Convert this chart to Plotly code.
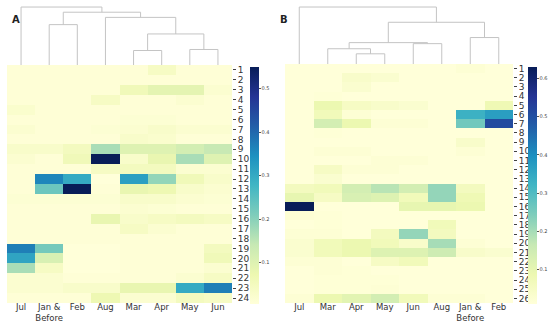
import plotly.graph_objects as go

# ---------------- data ----------------
rows_a = list(range(1, 25))
cols_a = ["Jul", "Jan &<br>Before", "Feb", "Aug", "Mar", "Apr", "May", "Jun"]
vals_a = [
    [0.01, 0.01, 0.01, 0.01, 0.01, 0.04, 0.01, 0.01],   # 1
    [0.01, 0.01, 0.01, 0.01, 0.01, 0.01, 0.01, 0.01],   # 2
    [0.01, 0.01, 0.01, 0.01, 0.06, 0.09, 0.09, 0.02],   # 3
    [0.01, 0.01, 0.01, 0.04, 0.01, 0.01, 0.02, 0.01],   # 4
    [0.025, 0.01, 0.01, 0.01, 0.01, 0.01, 0.01, 0.01],  # 5
    [0.01, 0.01, 0.01, 0.01, 0.015, 0.015, 0.01, 0.01], # 6
    [0.02, 0.01, 0.01, 0.015, 0.02, 0.03, 0.02, 0.02],  # 7
    [0.01, 0.01, 0.01, 0.01, 0.03, 0.025, 0.01, 0.01],  # 8
    [0.03, 0.03, 0.05, 0.17, 0.10, 0.10, 0.12, 0.14],   # 9
    [0.02, 0.01, 0.06, 0.55, 0.03, 0.08, 0.17, 0.10],   # 10
    [0.01, 0.01, 0.01, 0.04, 0.05, 0.05, 0.02, 0.02],   # 11
    [0.01, 0.36, 0.30, 0.005, 0.32, 0.19, 0.06, 0.03],  # 12
    [0.01, 0.23, 0.55, 0.01, 0.08, 0.07, 0.03, 0.02],   # 13
    [0.015, 0.015, 0.015, 0.015, 0.03, 0.03, 0.02, 0.015], # 14
    [0.01, 0.01, 0.01, 0.01, 0.02, 0.015, 0.01, 0.01],  # 15
    [0.01, 0.01, 0.01, 0.08, 0.03, 0.04, 0.05, 0.04],   # 16
    [0.01, 0.01, 0.01, 0.01, 0.04, 0.02, 0.01, 0.01],   # 17
    [0.01, 0.01, 0.01, 0.01, 0.01, 0.01, 0.01, 0.01],   # 18
    [0.37, 0.22, 0.005, 0.005, 0.01, 0.01, 0.01, 0.05], # 19
    [0.31, 0.11, 0.005, 0.005, 0.01, 0.01, 0.01, 0.06], # 20
    [0.17, 0.04, 0.005, 0.005, 0.01, 0.01, 0.01, 0.02], # 21
    [0.02, 0.02, 0.01, 0.01, 0.01, 0.01, 0.02, 0.04],   # 22
    [0.02, 0.02, 0.03, 0.03, 0.08, 0.08, 0.30, 0.37],   # 23
    [0.01, 0.01, 0.01, 0.07, 0.02, 0.02, 0.05, 0.04],   # 24
]
# dendrogram merges (left, right, height); ids >= 8 refer to earlier merges
merges_a = [(4, 5, 14), (6, 7, 15), (8, 9, 30), (3, 10, 46),
            (1, 2, 39), (12, 11, 51), (0, 13, 56)]

rows_b = list(range(1, 27))
cols_b = ["Jul", "Mar", "Apr", "May", "Jun", "Aug", "Jan &<br>Before", "Feb"]
vals_b = [
    [0.01, 0.01, 0.01, 0.01, 0.01, 0.01, 0.02, 0.01],   # 1
    [0.01, 0.01, 0.04, 0.03, 0.01, 0.01, 0.01, 0.01],   # 2
    [0.01, 0.01, 0.03, 0.01, 0.01, 0.01, 0.01, 0.01],   # 3
    [0.01, 0.015, 0.01, 0.01, 0.01, 0.01, 0.01, 0.01],  # 4
    [0.01, 0.09, 0.05, 0.04, 0.03, 0.01, 0.01, 0.08],   # 5
    [0.01, 0.07, 0.02, 0.01, 0.01, 0.01, 0.33, 0.37],   # 6
    [0.01, 0.14, 0.09, 0.02, 0.02, 0.01, 0.26, 0.51],   # 7
    [0.01, 0.015, 0.01, 0.01, 0.01, 0.01, 0.01, 0.01],  # 8
    [0.01, 0.01, 0.01, 0.01, 0.01, 0.01, 0.04, 0.01],   # 9
    [0.01, 0.02, 0.02, 0.01, 0.01, 0.01, 0.02, 0.01],   # 10
    [0.01, 0.01, 0.01, 0.02, 0.02, 0.01, 0.01, 0.01],   # 11
    [0.01, 0.05, 0.02, 0.02, 0.01, 0.01, 0.01, 0.01],   # 12
    [0.01, 0.03, 0.01, 0.01, 0.01, 0.01, 0.01, 0.01],   # 13
    [0.06, 0.07, 0.14, 0.18, 0.14, 0.22, 0.06, 0.01],   # 14
    [0.10, 0.05, 0.13, 0.12, 0.07, 0.22, 0.08, 0.01],   # 15
    [0.63, 0.01, 0.01, 0.01, 0.10, 0.10, 0.09, 0.01],   # 16
    [0.02, 0.015, 0.01, 0.01, 0.01, 0.01, 0.01, 0.01],  # 17
    [0.01, 0.015, 0.01, 0.01, 0.01, 0.07, 0.01, 0.01],  # 18
    [0.02, 0.02, 0.01, 0.06, 0.22, 0.06, 0.01, 0.01],   # 19
    [0.03, 0.07, 0.09, 0.07, 0.04, 0.20, 0.02, 0.01],   # 20
    [0.03, 0.07, 0.09, 0.12, 0.12, 0.15, 0.04, 0.03],   # 21
    [0.02, 0.02, 0.01, 0.05, 0.07, 0.01, 0.01, 0.01],   # 22
    [0.01, 0.02, 0.015, 0.01, 0.01, 0.01, 0.01, 0.01],  # 23
    [0.01, 0.015, 0.015, 0.015, 0.01, 0.01, 0.01, 0.01],# 24
    [0.01, 0.015, 0.015, 0.02, 0.01, 0.01, 0.01, 0.01], # 25
    [0.02, 0.09, 0.11, 0.14, 0.07, 0.02, 0.02, 0.01],   # 26
]
merges_b = [(2, 3, 10), (1, 8, 15), (4, 5, 20), (9, 10, 21),
            (6, 7, 26), (11, 12, 41), (0, 13, 56)]

colorscale = [
    [0.0, "#ffffd9"], [0.125, "#edf8b1"], [0.25, "#c7e9b4"], [0.375, "#7fcdbb"],
    [0.5, "#41b6c4"], [0.625, "#1d91c0"], [0.75, "#225ea8"], [0.875, "#253494"],
    [1.0, "#081d58"],
]


def dendro_xy(merges, n):
    pos = {i: float(i) for i in range(n)}
    hgt = {i: 0.0 for i in range(n)}
    xs, ys = [], []
    for k, (a, b, h) in enumerate(merges):
        xs += [pos[a], pos[a], pos[b], pos[b], None]
        ys += [hgt[a], h, h, hgt[b], None]
        cid = n + k
        pos[cid] = (pos[a] + pos[b]) / 2
        hgt[cid] = h
    return xs, ys


W, H = 550, 326


def px_x(p):
    return p / W


def px_y(p):
    return 1 - p / H


fig = go.Figure()

panels = [
    dict(vals=vals_a, rows=rows_a, cols=cols_a, merges=merges_a,
         x0=7, x1=232, y0=65, y1=303, cbx=250, cby0=67, cby1=304, fs=9),
    dict(vals=vals_b, rows=rows_b, cols=cols_b, merges=merges_b,
         x0=285, x1=513, y0=64, y1=303, cbx=528, cby0=67, cby1=304, fs=9),
]

for i, p in enumerate(panels):
    hx = "x" + ("" if i == 0 else str(2 * i + 1))
    hy = "y" + ("" if i == 0 else str(2 * i + 1))
    dx = "x" + str(2 * i + 2)
    dy = "y" + str(2 * i + 2)
    ncol = len(p["cols"])
    fig.add_trace(go.Heatmap(
        z=p["vals"], x=list(range(ncol)), y=p["rows"],
        colorscale=colorscale, zmin=0,
        xaxis=hx, yaxis=hy,
        colorbar=dict(
            x=px_x(p["cbx"]), xanchor="left", xref="paper",
            y=px_y(p["cby1"]), yanchor="bottom", yref="paper",
            len=(p["cby1"] - p["cby0"]) / H, lenmode="fraction",
            thickness=9, thicknessmode="pixels",
            outlinewidth=0, ticks="outside", ticklen=2, tickwidth=0.6,
            tickcolor="#555", dtick=0.1, tickformat=".1f",
            tickfont=dict(size=5, color="#444", family="DejaVu Sans"),
            xpad=0, ypad=0,
        ),
        hoverinfo="skip",
    ))
    xs, ys = dendro_xy(p["merges"], ncol)
    fig.add_trace(go.Scatter(
        x=xs, y=ys, mode="lines", xaxis=dx, yaxis=dy,
        line=dict(color="#c4c4c4", width=1), showlegend=False, hoverinfo="skip",
    ))
    dom_x = [px_x(p["x0"]), px_x(p["x1"])]
    hk_x = "xaxis" + ("" if i == 0 else str(2 * i + 1))
    hk_y = "yaxis" + ("" if i == 0 else str(2 * i + 1))
    fig.update_layout(**{
        hk_x: dict(domain=dom_x, range=[-0.5, ncol - 0.5], anchor=hy,
                   tickvals=list(range(ncol)), ticktext=p["cols"],
                   ticks="", ticklabelstandoff=-3, automargin=False,
                   tickfont=dict(size=8.5, color="#333", family="DejaVu Sans"),
                   showgrid=False, zeroline=False, showline=False),
        hk_y: dict(domain=[px_y(p["y1"]), px_y(p["y0"])], anchor=hx,
                   range=[len(p["rows"]) + 0.5, 0.5], side="right",
                   tickvals=p["rows"], ticks="outside", ticklen=3, tickcolor="#444",
                   automargin=False,
                   tickfont=dict(size=p["fs"], color="#333", family="DejaVu Sans"),
                   showgrid=False, zeroline=False, showline=False),
        "xaxis" + str(2 * i + 2): dict(domain=dom_x, range=[-0.5, ncol - 0.5],
                                       anchor=dy, visible=False, automargin=False),
        "yaxis" + str(2 * i + 2): dict(domain=[px_y(p["y0"]), px_y(6)], anchor=dx,
                                       range=[0, 57], visible=False, automargin=False),
    })

fig.add_annotation(text="<b>A</b>", x=px_x(10), y=px_y(12), xref="paper", yref="paper",
                   showarrow=False, font=dict(size=10, color="#222", family="DejaVu Sans"))
fig.add_annotation(text="<b>B</b>", x=px_x(284), y=px_y(12), xref="paper", yref="paper",
                   showarrow=False, font=dict(size=10, color="#222", family="DejaVu Sans"))

fig.update_layout(
    width=W, height=H, margin=dict(l=0, r=0, t=0, b=0, autoexpand=False),
    paper_bgcolor="white", plot_bgcolor="white", showlegend=False,
)

fig.write_html("out.html", config={"displayModeBar": False},
               post_script="document.body.style.margin='0';document.body.style.overflow='hidden';")
